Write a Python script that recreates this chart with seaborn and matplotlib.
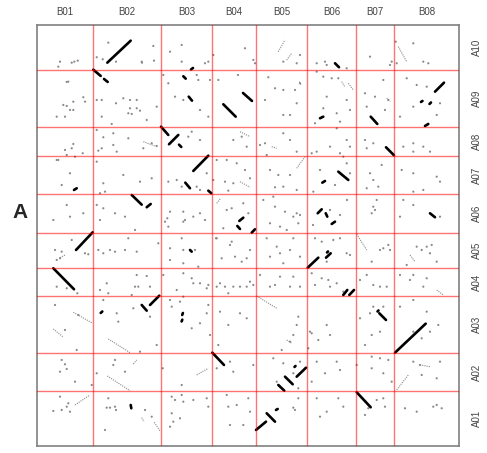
import numpy as np
import pandas as pd
import matplotlib
matplotlib.use("Agg")
import matplotlib.pyplot as plt
import seaborn as sns

# chromosome names and lengths (Mb), B genome on x, A genome on y (A01 at bottom)
b_chroms = ['B01', 'B02', 'B03', 'B04', 'B05', 'B06', 'B07', 'B08']
b_lengths = [56, 68, 51, 44, 51, 49, 38, 65]
a_chroms = ['A01', 'A02', 'A03', 'A04', 'A05', 'A06', 'A07', 'A08', 'A09', 'A10']
a_lengths = [55, 38, 57, 28, 35, 39, 38, 29, 57, 45]

# strong syntenic blocks: (x0, y0, x1, y1) in cumulative genome position
blocks = [
    (70.3, 383.3, 93.7, 405.3), (56.3, 376.3, 63.7, 370), (67, 367, 70.7, 364),
    (154, 376.5, 156, 378), (146.3, 369.7, 148.7, 367.3), (151.7, 349.3, 155, 345.3),
    (186.3, 341.7, 198.7, 329.3), (206, 353, 215, 345),
    (124, 319.3, 131.3, 311), (132, 301.7, 141.3, 311), (142, 301.3, 144.3, 299),
    (156.3, 275, 171.3, 290.3), (148.3, 263.3, 153, 257.7), (171.3, 255.3, 174.3, 252.7),
    (37, 256, 39.7, 257.7), (94.7, 251, 104.7, 241.3), (109.7, 238.7, 113.7, 242),
    (298, 382.7, 302, 378.7), (398, 354.3, 407, 363.3), (388, 320, 391.3, 322),
    (333.7, 329.3, 340.3, 322), (283, 327.7, 286.3, 329.3), (349, 298.7, 357, 290.7),
    (301.3, 274.3, 311.3, 266), (285.3, 263.3, 288, 265), (393, 232.7, 398, 228.7),
    (280.7, 232.7, 284.7, 236.7), (288.7, 232.7, 290.3, 229.3), (294.7, 222, 298, 224.3),
    (39, 196, 55.7, 213.7), (16.3, 177.7, 37, 156.7),
    (113, 141, 122.3, 150.3), (104.7, 141, 109.7, 135.3), (63.7, 133, 65.3, 134.5),
    (145.2, 131, 145.9, 133), (144.6, 124.5, 145.3, 126.3),
    (175.3, 93.3, 187, 81), (93.7, 41, 94.3, 37.7),
    (200.3, 220, 203, 217), (202.3, 225, 206.3, 228.3), (214.7, 213.3, 218, 216.7),
    (219, 16, 229, 24.3), (229.7, 32.7, 238, 24.3), (239, 36, 240.7, 37),
    (241.3, 61, 247.3, 55.3), (248, 69.3, 255.7, 61.7), (259.7, 69.3, 269, 78.3),
    (257.5, 79, 258.5, 80),
    (270.7, 178.3, 281.3, 188.3), (289, 188.3, 293.7, 192.7), (290, 193.5, 291, 194.5),
    (306.3, 151, 310.3, 156), (312.3, 151, 317, 156),
    (342.3, 132.7, 349, 126), (340.5, 134.5, 341.5, 135.5),
    (358, 93.3, 388.7, 122.3), (319.7, 53.7, 333.7, 38.7),
    (153, 196, 154.7, 194.3), (384, 344, 385.5, 345), (392.5, 342, 394, 343.5),
]

# weak, dotted blocks
weak_blocks = [
    (241.3, 394.3, 248, 406), (249.7, 386, 254.7, 392.7), (361.3, 399.3, 369.7, 384.3),
    (304.7, 364.3, 308, 358.7), (311.3, 362.7, 316.3, 356), (349.7, 347.7, 353, 344.3),
    (262.3, 364.3, 264, 361), (71.3, 107, 93, 93.3), (70.3, 70, 93, 55.3),
    (16.3, 117, 25.7, 109.3), (36.3, 133.7, 55.7, 122.7), (38, 41, 53, 51),
    (117.3, 23.7, 123, 15), (104.7, 28.3, 107, 24.3), (399.7, 156, 406.3, 151),
    (319.7, 211.7, 329.7, 196), (373, 191, 378, 184.3), (359.7, 56, 371.3, 71),
    (383, 81, 393, 79.3), (219.7, 150, 239.7, 137.7), (249.7, 106, 254.7, 102.7),
    (203, 264.3, 213, 258.7), (179.7, 242.7, 183.7, 247.7), (259.7, 277.7, 268, 289.3),
    (159.7, 71, 171.3, 77.7), (23, 188.3, 28, 191), (96.3, 82, 99.7, 86),
    (203, 314.3, 213, 309.3), (106.3, 304.3, 119.7, 299.3), (234.7, 299.3, 239.7, 297.7),
]

# scattered single hits (x, y)
hits = [
    (23, 384.3), (34.7, 383.3), (37.3, 384.3), (40.7, 385.3), (21.3, 379.3),
    (71.3, 403.3), (59.7, 388.7), (65.7, 386.7), (79, 384.3), (105, 383.3), (116.3, 400),
    (104.7, 384.3), (117, 385.3), (144.7, 384.3), (168, 382.7), (171.3, 384.3),
    (144.7, 401), (133, 394.3), (176.3, 391), (208, 397.7), (218, 382.7), (216.3, 386),
    (246.3, 384.3), (259.7, 382.7), (263, 391), (279.7, 382.7), (288, 384.3), (289.7, 381),
    (309.7, 377.7), (333, 389.3), (354.7, 384.3), (353, 381), (376.3, 402.7), (386.3, 384.3),
    (391.3, 382.7), (359.7, 382.7), (358.7, 404.3),
    (31.3, 364.3), (29.7, 364), (36.3, 344.3), (26.3, 341), (33, 336), (19.7, 329.3),
    (28, 329.3), (46.3, 348.7), (29.7, 340), (36.3, 336), (48, 344.3),
    (59.7, 346), (64.7, 346), (79, 342.7), (86.3, 347.7), (93, 346), (99.7, 346), (93, 337.7),
    (99.7, 337.7), (91.3, 332.7), (94.7, 332), (64.7, 329.3), (74.7, 322), (109.7, 326),
    (119.7, 339.3), (103, 335.3), (126.3, 371), (131.3, 362.7), (138, 349.3), (146.3, 346),
    (159.7, 371), (161.3, 366), (173, 366), (171.3, 329.3), (163, 336), (181.3, 366), (201, 371),
    (231.3, 368.7), (238, 357.7), (246.3, 356), (258, 356), (263, 362.7), (253, 331),
    (246.3, 331), (228, 346), (259.7, 342.7), (279.7, 374.3), (286.3, 369.3), (294.7, 367.7),
    (301.3, 367.7), (309.7, 346), (289.7, 349.3), (286.3, 337.7), (299.7, 332.7), (313, 336),
    (278, 322.7), (303, 324.3), (328, 352.7), (346.3, 366), (351.3, 346), (329.7, 339.3),
    (348, 336), (338, 349.3), (369.7, 367.7), (379.7, 361), (389.7, 359.3), (376.3, 339.3),
    (403, 342.7), (399.7, 331), (363, 329.3),
    (36.3, 302), (34.7, 297.7), (28, 296), (29.7, 291), (45.7, 292.7), (19.7, 286),
    (59.7, 316), (66.3, 308.7), (76.3, 312.7), (76.3, 301), (64.7, 297.7), (61.3, 295.3),
    (91.3, 307.7), (106.3, 297.7), (114.7, 302.7), (119.7, 300), (79.7, 294.3),
    (151.3, 309.3), (154.7, 314.3), (163, 306), (204.7, 309.3), (209.7, 299.3), (196.3, 306),
    (228, 302.7), (223, 301), (246.3, 312.7), (253, 306), (259.7, 294.3),
    (299.7, 317.7), (309.7, 306), (313, 299.3), (293, 299.3), (279.7, 294.3), (303, 292.7),
    (274.7, 292.7), (328, 306), (336.3, 302.7), (329.7, 297.7), (376.3, 302.7),
    (386.3, 299.3), (393, 294.3), (376.3, 294.3), (366.3, 299.3),
    (21.3, 286), (24.7, 261), (33, 272.7), (38, 289.3), (66.3, 262.7), (68, 254.3),
    (63, 252.7), (86.3, 271), (103, 264.3), (114.7, 267.7), (59.7, 284.3),
    (139.7, 266), (144.7, 259.3), (159.7, 259.3), (163, 256), (131.3, 264.3), (169.7, 272.7),
    (179.7, 286), (189.7, 286), (199.7, 282.7), (176.3, 266), (188, 264.3), (196.3, 262.7),
    (208, 276), (213, 267.7), (191.3, 255.3), (229.7, 291), (233, 276), (238, 258.7),
    (246.3, 259.3), (253, 271), (259.7, 256), (241.3, 271), (283, 276), (298, 261),
    (306.3, 289.3), (309.7, 282.7), (313, 272.7), (276.3, 254.3), (333, 272.7), (344.7, 281),
    (336.3, 266), (329.7, 257.7), (341.3, 259.3), (376.3, 272.7), (399.7, 269.3),
    (403, 264.3), (386.3, 256), (376.3, 254.3), (364.7, 276),
    (29.7, 241), (33, 229.3), (16.3, 226), (46.3, 232.7), (66.3, 237.7), (63, 226),
    (78, 232.7), (88, 229.3), (59.7, 241), (128, 224.3), (130.3, 227.7), (146.3, 224.3),
    (148, 226), (146.3, 234.3), (133, 234.3), (156.3, 229.3), (163, 232.7), (168, 226),
    (131.3, 219.3), (189.7, 236), (194.7, 237.7), (206.3, 242.7), (211.3, 232.7),
    (186.3, 217.7), (179, 207.7), (226.3, 246), (238, 239.3), (248, 234.3), (259.7, 232.7),
    (256.3, 229.3), (263, 231), (249.7, 216), (233, 222.7), (243, 219.3), (261.3, 222.7),
    (236.3, 249.3), (293, 236), (303, 231), (276, 221), (310, 246), (336.3, 239.3),
    (339.7, 246), (334.7, 232.7), (338, 236), (366.3, 246), (376.3, 241), (363, 229.3),
    (403, 229.3),
    (18, 196), (24.7, 194.3), (23, 187.7), (19.7, 186), (34.7, 206), (48, 192.7),
    (51.3, 191.7), (61.3, 196), (73, 196), (78, 194.3), (88, 196), (99.7, 194.3),
    (66.3, 192.7), (98, 216), (121.3, 202.7), (91.3, 207.7), (133, 197.7), (146.3, 196),
    (144.7, 207.7), (161.3, 179.3), (158, 196), (146.3, 182.7), (133, 186), (179.7, 207.7),
    (193, 201), (198, 189.3), (209.7, 187.7), (194.7, 204.3), (213, 196), (184.7, 187.7),
    (204.7, 184.3), (229.7, 207.7), (239.7, 199.3), (243, 192.7), (253, 196), (263, 189.3),
    (246.3, 182.7), (256.3, 207.7), (233, 189.3), (284.7, 204.3), (296.3, 206), (303, 207.7),
    (309.7, 192.7), (313, 191), (289.7, 184.3), (278, 207.7), (343, 196), (346.3, 197.7),
    (351.3, 201), (353, 196), (334.7, 184.3), (379.7, 199.3), (384.7, 196), (389.7, 199.3),
    (394.7, 201), (393, 192.7), (369.7, 181), (399.7, 184.3),
    (19.7, 159.3), (29.7, 157.7), (40.3, 152.7), (63, 156), (69.7, 162.7), (71.3, 152.7),
    (99.7, 171), (98, 159.3), (113, 159.3), (109.7, 170), (101.3, 159.3), (154.7, 167.7),
    (163, 162.7), (169.7, 157.7), (171.3, 161), (126.3, 171), (146.3, 172.7), (156.3, 162.7),
    (139.7, 156), (179.7, 159.3), (188, 159.3), (196.3, 159.3), (203, 159.3), (209.7, 159.3),
    (191.3, 152.7), (183, 162.7), (213, 164.3), (233, 159.3), (238, 161), (253, 159.3),
    (263, 159.3), (216.3, 161), (223, 171), (243, 169.3), (256.3, 169.3), (274.7, 172.7),
    (284.7, 167.7), (291.3, 166), (293, 159.3), (278, 161), (299.7, 162.7), (306.3, 154.3),
    (329.7, 171), (336.3, 161), (343, 159.3), (349.7, 159.3), (323, 166), (363, 171),
    (373, 166), (376.3, 171), (389.7, 167.7), (386.3, 159.3),
    (18, 141), (28, 116), (41.3, 131), (39.7, 96), (66.3, 146), (94.7, 151), (96.3, 137.7),
    (79.7, 132.7), (81.3, 124.3), (113, 129.3), (103, 94.3), (119.7, 101), (133, 146),
    (143, 144.3), (146.3, 149.3), (134.7, 139.3), (154.7, 117.7), (171.3, 141),
    (169.7, 132.7), (173, 111), (163, 122.7), (183, 134.3), (191.3, 121), (203, 132.7),
    (209.7, 127.7), (181.3, 101), (261.3, 129.3), (259.7, 121), (256.3, 111), (253, 104.3),
    (244.7, 96), (273, 114.3), (274.7, 112.7), (289.7, 121), (293, 111), (281.3, 106),
    (271.3, 97.7), (323, 127.7), (333, 132.7), (336.3, 139.3), (346.3, 139.3), (328, 101),
    (334.7, 111), (343, 114.3), (363, 139.3), (376.3, 146), (389.7, 134.3), (393, 114.3),
    (401.3, 121), (376.3, 114.3), (384.7, 107.7),
    (24.7, 86), (28, 81.7), (29.7, 77), (23, 74.3), (38, 64.3), (54.7, 61), (59.7, 72.7),
    (78, 86), (88, 74.3), (76.3, 81), (125.7, 77.7), (144.7, 61), (196.3, 74.3),
    (179.7, 77.7), (193, 84.3), (216.3, 81), (236.3, 87.7), (246.3, 82.7), (263, 84.3),
    (256.3, 72.7), (261.3, 57.7), (239.7, 64.3), (279.7, 84.3), (299.7, 84.3), (303, 76),
    (288, 72.7), (274.7, 64.3), (319.7, 81), (334.7, 89.3), (343, 87.7), (351.3, 86),
    (334.7, 77.7), (346.3, 72.7), (354.7, 64.3), (376.3, 84.3), (383, 81), (403, 84.3),
    (384.7, 71), (399.7, 67.7),
    (23, 49.3), (16.3, 35), (24.7, 36), (29.7, 39.3), (31.3, 42.7), (33, 34.3), (71.3, 47.7),
    (69.7, 38.3), (73, 38.3), (78, 39.3), (79, 36), (108, 36), (114.7, 29.3), (68, 16),
    (134.7, 49.3), (138, 46), (144.7, 51), (146.3, 44.3), (134.7, 32.7), (143, 27.7),
    (136.3, 24.3), (133, 19.3), (169.7, 47.7), (171.3, 39.3), (156.3, 46), (189.7, 51),
    (191.3, 39.3), (199.7, 41), (193, 21), (211.3, 47.7), (213, 34.3), (206.3, 21),
    (256.3, 38.3), (258, 36), (261.3, 47.7), (279.7, 47.7), (283, 29.3), (301.3, 47.7),
    (306.3, 39.3), (289.7, 34.3), (328, 31), (331.3, 37.7), (346.3, 47.7), (348, 39.3),
    (339.7, 46), (396.3, 39.3), (399.7, 41), (368, 37.7), (379.7, 34.3), (404.7, 37.7),
]


def to_long(segs):
    rows = []
    for i, (x0, y0, x1, y1) in enumerate(segs):
        rows.append({'seg': i, 'x': x0, 'y': y0})
        rows.append({'seg': i, 'x': x1, 'y': y1})
    return pd.DataFrame(rows)


block_df = to_long(blocks)
weak_df = to_long(weak_blocks)
hit_df = pd.DataFrame(hits, columns=['x', 'y'])

b_edges = np.cumsum([0] + b_lengths)
a_edges = np.cumsum([0] + a_lengths)

sns.set_style('white')
plt.rcParams['font.family'] = ['Liberation Sans', 'DejaVu Sans']

fig = plt.figure(figsize=(4.87, 4.53), dpi=100)
ax = fig.add_axes([0.076, 0.0155, 0.8665, 0.9294])

sns.scatterplot(data=hit_df, x='x', y='y', ax=ax, s=2.5, color='#8a8a8a',
                edgecolor='none', legend=False, zorder=2)
sns.lineplot(data=weak_df, x='x', y='y', units='seg', estimator=None, sort=False,
             ax=ax, color='#8a8a8a', lw=0.8, linestyle=(0, (1, 1)), zorder=2)
sns.lineplot(data=block_df, x='x', y='y', units='seg', estimator=None, sort=False,
             ax=ax, color='black', lw=1.9, zorder=3)

# chromosome boundaries
for e in b_edges[1:-1]:
    ax.axvline(e, color='red', alpha=0.55, lw=1.0, zorder=4)
for e in a_edges[1:-1]:
    ax.axhline(e, color='red', alpha=0.55, lw=1.0, zorder=4)

ax.set_xlim(0, b_edges[-1])
ax.set_ylim(0, a_edges[-1])

ax.set_xticks((b_edges[:-1] + b_edges[1:]) / 2)
ax.set_xticklabels(b_chroms, fontsize=7, color='#444444')
ax.xaxis.tick_top()
ax.set_yticks((a_edges[:-1] + a_edges[1:]) / 2)
ax.set_yticklabels(a_chroms, fontsize=7, color='#444444', rotation=90, va='center')
ax.yaxis.tick_right()
ax.tick_params(axis='x', length=0, pad=6)
ax.tick_params(axis='y', length=0, pad=9)
ax.set_xlabel('')
ax.set_ylabel('')

for sp in ax.spines.values():
    sp.set_color('#808080')
    sp.set_linewidth(1.2)

fig.text(20 / 487, 1 - 213 / 453, 'A', fontsize=15, fontweight='bold',
         ha='center', va='center')

fig.savefig('out.png', dpi=100)
